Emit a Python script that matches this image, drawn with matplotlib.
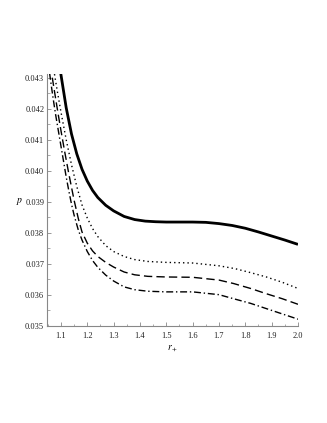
import matplotlib
matplotlib.use("Agg")
import matplotlib.pyplot as plt
from matplotlib.ticker import MultipleLocator, FormatStrFormatter

plt.rcParams['font.family'] = ['Liberation Serif', 'DejaVu Serif']
plt.rcParams['mathtext.fontset'] = 'stix'

# solid curve
r_solid = [1.09, 1.10, 1.12, 1.14, 1.16, 1.18, 1.20, 1.22, 1.24, 1.27, 1.30, 1.34, 1.38,
           1.42, 1.46, 1.50, 1.55, 1.60, 1.65, 1.70, 1.75, 1.80, 1.85, 1.90, 1.95, 2.00]
p_solid = [0.04365, 0.0431, 0.04203, 0.04119, 0.04055, 0.04005, 0.03967, 0.03937, 0.03914,
           0.03889, 0.03871, 0.03853, 0.03843, 0.03838, 0.03836, 0.03835, 0.03835, 0.03835,
           0.03834, 0.03830, 0.03824, 0.03815, 0.03803, 0.03790, 0.03777, 0.03763]

# dotted curve
r_dot = [1.07, 1.08, 1.09, 1.10, 1.12, 1.14, 1.16, 1.18, 1.20, 1.22, 1.24, 1.27, 1.30, 1.34,
         1.38, 1.43, 1.50, 1.60, 1.70, 1.76, 1.82, 1.88, 1.94, 2.00]
p_dot = [0.0434, 0.04288, 0.04238, 0.0419, 0.0410, 0.0402, 0.0395, 0.0389, 0.03848, 0.03814,
         0.03788, 0.03759, 0.0374, 0.03724, 0.03714, 0.03708, 0.03705, 0.03703, 0.03694,
         0.03685, 0.03672, 0.03658, 0.03641, 0.03621]

# dashed curve
r_dash = [1.06, 1.07, 1.08, 1.09, 1.10, 1.115, 1.13, 1.15, 1.166, 1.18, 1.20, 1.22, 1.24,
          1.27, 1.30, 1.34, 1.38, 1.43, 1.50, 1.60, 1.70, 1.755, 1.82, 1.88, 1.94, 2.00]
p_dash = [0.0434, 0.04285, 0.04232, 0.0418, 0.0413, 0.04058, 0.0399, 0.03905, 0.03846,
          0.03803, 0.03767, 0.03742, 0.03724, 0.03705, 0.0369, 0.03674, 0.03665, 0.0366,
          0.03658, 0.03657, 0.03648, 0.03637, 0.03621, 0.03604, 0.03588, 0.0357]

# dash-dot curve
r_dd = [1.05, 1.06, 1.07, 1.08, 1.09, 1.10, 1.11, 1.12, 1.13, 1.14, 1.15, 1.166, 1.18, 1.20,
        1.22, 1.24, 1.27, 1.30, 1.34, 1.38, 1.43, 1.50, 1.60, 1.70, 1.755, 1.82, 1.88, 1.94,
        2.00]
p_dd = [0.0436, 0.04295, 0.04235, 0.0418, 0.0413, 0.0408, 0.0403, 0.0398, 0.03935, 0.03893,
        0.03857, 0.03809, 0.03777, 0.0374, 0.03711, 0.03689, 0.03664, 0.03645, 0.03626,
        0.03617, 0.03612, 0.0361, 0.0361, 0.03601, 0.03588, 0.03573, 0.03556, 0.03539,
        0.03522]

fig = plt.figure(figsize=(3.27, 4.23), dpi=100)
ax = fig.add_axes([0.1437, 0.2293, 0.7676, 0.5957])

ax.plot(r_solid, p_solid, color='black', lw=2.0, solid_capstyle='butt')
ax.plot(r_dot, p_dot, color='black', lw=1.0, linestyle=(0, (1, 2.2)))
ax.plot(r_dash, p_dash, color='black', lw=1.0, linestyle=(0, (6, 3)))
ax.plot(r_dd, p_dd, color='black', lw=1.0, linestyle=(0, (5, 2, 1, 2)))

ax.set_xlim(1.047, 2.0)
ax.set_ylim(0.035, 0.04312)

for s in ['top', 'right']:
    ax.spines[s].set_visible(False)
for s in ['left', 'bottom']:
    ax.spines[s].set_color('#888888')
    ax.spines[s].set_linewidth(0.8)

ax.xaxis.set_major_locator(MultipleLocator(0.1))
ax.xaxis.set_minor_locator(MultipleLocator(0.05))
ax.yaxis.set_major_locator(MultipleLocator(0.001))
ax.yaxis.set_minor_locator(MultipleLocator(0.0005))
ax.xaxis.set_major_formatter(FormatStrFormatter('%.1f'))
ax.yaxis.set_major_formatter(FormatStrFormatter('%.3f'))

ax.tick_params(which='both', direction='in', color='#888888', labelsize=6, labelcolor='#222222')
ax.tick_params(which='major', length=3, width=0.6)
ax.tick_params(which='minor', length=1.8, width=0.5)
ax.tick_params(axis='y', which='major', pad=2)
ax.tick_params(axis='x', which='major', pad=4)

ax.set_ylabel('$p$', rotation=0, fontsize=7, labelpad=1, va='center', ha='center')
ax.yaxis.set_label_coords(-0.11, (0.039 - 0.035) / (0.04312 - 0.035))
ax.set_xlabel('$r_+$', fontsize=7, labelpad=3)

fig.savefig('out.png', dpi=100)
